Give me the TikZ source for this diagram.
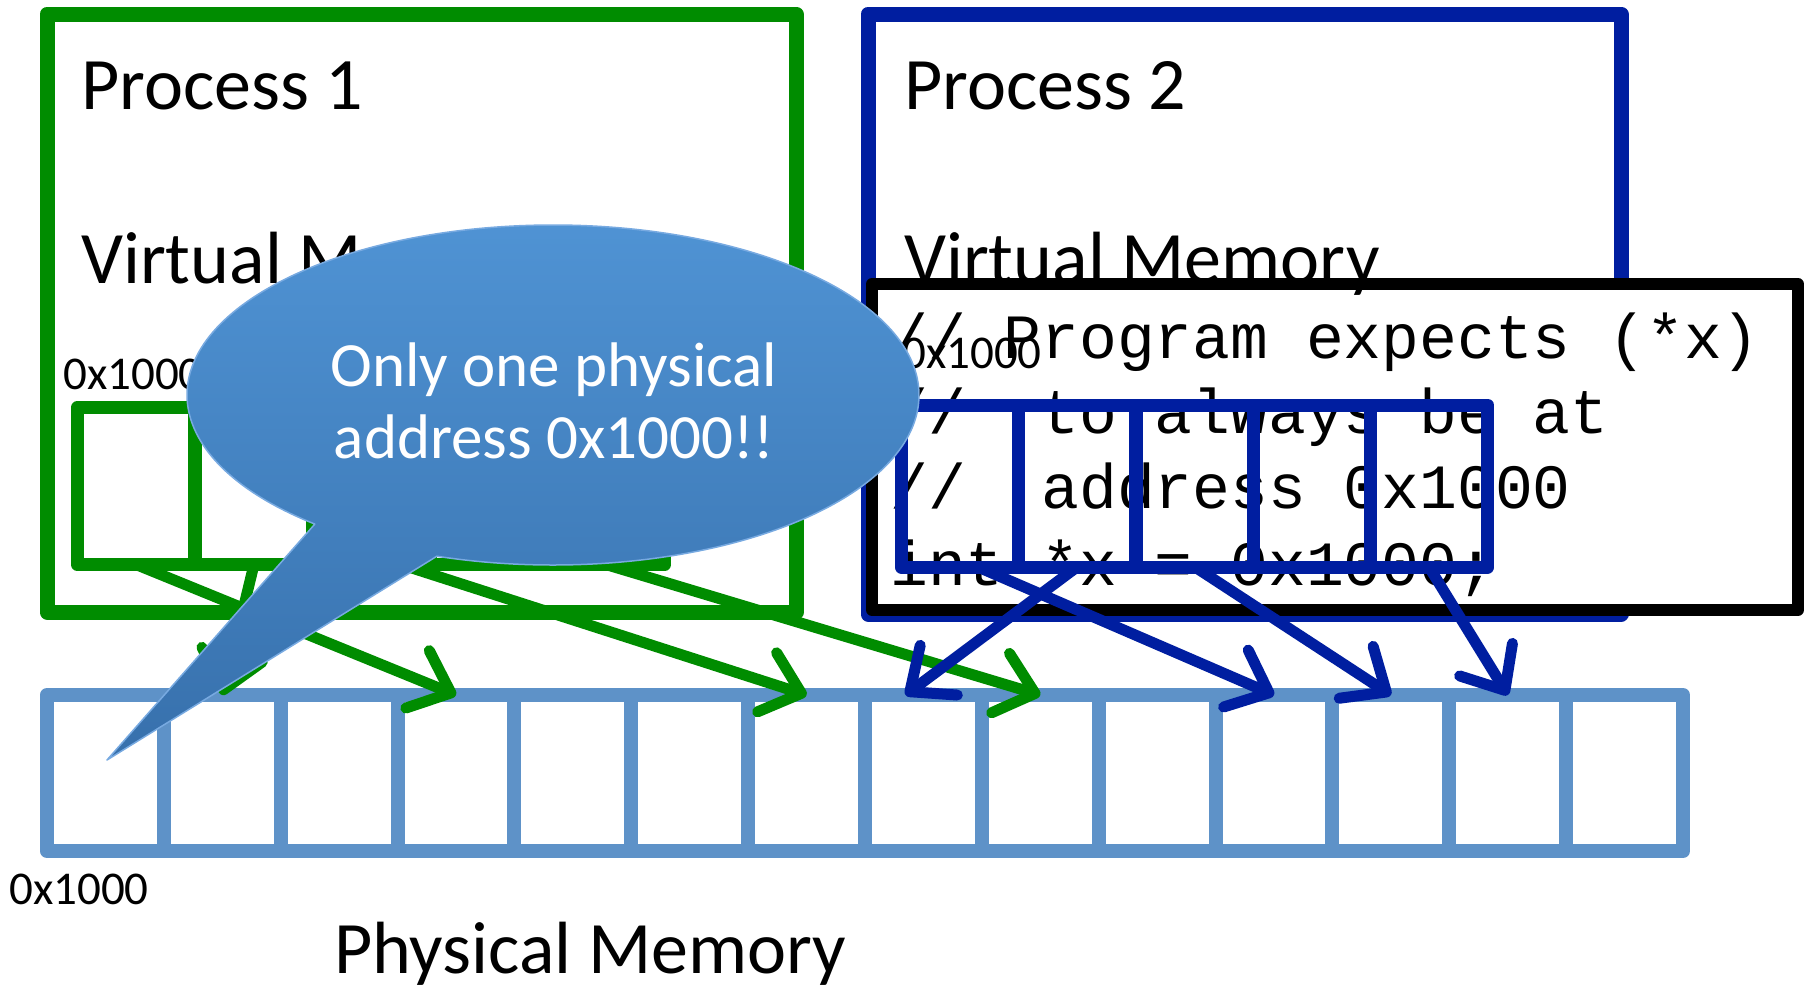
\documentclass[tikz,border=0pt]{standalone}
\usepackage{fontspec}
\setmainfont{Carlito}
\newfontfamily\codefont{Liberation Mono}
\usepackage{tikz}
\usetikzlibrary{arrows.meta,calc}

\definecolor{pgreen}{RGB}{0,140,0}
\definecolor{pblue}{RGB}{0,30,160}
\definecolor{memblue}{RGB}{94,146,200}
\definecolor{bubtop}{RGB}{80,148,213}
\definecolor{bubbot}{RGB}{55,112,172}
\definecolor{bubedge}{RGB}{120,170,225}

\begin{document}
\begin{tikzpicture}[x=1pt, y=-1pt, line join=round,
	bigtext/.style={font=\fontsize{74}{80}\selectfont, anchor=base west, inner sep=0pt},
	addrtext/.style={font=\fontsize{47}{52}\selectfont, anchor=base west, inner sep=0pt},
	codetext/.style={font=\codefont\fontsize{63}{70}\selectfont, anchor=base west, inner sep=0pt},
	bubtext/.style={font=\fontsize{63}{70}\selectfont, text=white, anchor=base, inner sep=0pt},
	procbox/.style={line width=15pt, outer sep=0pt, inner sep=0pt},
	gcell/.style={draw=pgreen, line width=13pt, minimum width=117.6pt, minimum height=157pt, outer sep=0pt, inner sep=0pt},
	bcell/.style={draw=pblue, line width=13pt, minimum width=117.4pt, minimum height=162pt, outer sep=0pt, inner sep=0pt},
	pcell/.style={draw=memblue, line width=14pt, minimum width=116.9pt, minimum height=156pt, outer sep=0pt, inner sep=0pt},
	garrow/.style={draw=pgreen, line width=11pt, line cap=round, -{Straight Barb[length=36pt, width=62pt, round]}},
	barrow/.style={draw=pblue, line width=11pt, line cap=round, -{Straight Barb[length=36pt, width=62pt, round]}},
	bubble/.style={top color=bubtop, bottom color=bubbot, draw=bubedge, line width=1.5pt}]

	\useasboundingbox (0,0) rectangle (1806,986);

	% process 1
	\node[procbox, draw=pgreen, minimum width=749pt, minimum height=598pt] (proc1) at (421.5, 313) {};
	\node[bigtext] (p1title) at (81, 109) {Process 1};
	\node[bigtext] (p1virt) at (81, 283) {Virtual Memory};

	% process 2
	\node[procbox, draw=pblue, minimum width=753pt, minimum height=600pt] (proc2) at (1244.5, 314) {};
	\node[bigtext] (p2title) at (904, 109) {Process 2};

	% the program
	\node[draw=black, fill=white, line width=12pt, minimum width=926pt, minimum height=326pt, outer sep=0pt] (code) at (1335, 447) {};
	\node[codetext] (code1) at (890, 358) {// Program expects (*x)};
	\node[codetext] (code2) at (890, 433) {//\ \ to always be at};
	\node[codetext] (code3) at (890, 508) {//\ \ address 0x1000};
	\node[codetext] (code4) at (890, 585) {int *x = 0x1000;};
	\node[bigtext] (p2virt) at (904, 283) {Virtual Memory};
	\node[addrtext] (p2addr) at (902, 368) {0x1000};

	% virtual pages
	\node[addrtext] (p1addr) at (63, 389) {0x1000};
	\node[gcell] (g1) at (136, 486) {};
	\node[gcell] (g2) at (254, 486) {};
	\node[gcell] (g3) at (371, 486) {};
	\node[gcell] (g4) at (489, 486) {};
	\node[gcell] (g5) at (606, 486) {};

	\node[bcell] (b1) at (960, 486) {};
	\node[bcell] (b2) at (1077, 486) {};
	\node[bcell] (b3) at (1195, 486) {};
	\node[bcell] (b4) at (1312, 486) {};
	\node[bcell] (b5) at (1429, 486) {};

	% physical memory
	\node[pcell] (p1) at (105.4, 773) {};
	\node[pcell] (p2) at (222.3, 773) {};
	\node[pcell] (p3) at (339.2, 773) {};
	\node[pcell] (p4) at (456.0, 773) {};
	\node[pcell] (p5) at (572.9, 773) {};
	\node[pcell] (p6) at (689.7, 773) {};
	\node[pcell] (p7) at (806.6, 773) {};
	\node[pcell] (p8) at (923.5, 773) {};
	\node[pcell] (p9) at (1040.3, 773) {};
	\node[pcell] (p10) at (1157.2, 773) {};
	\node[pcell] (p11) at (1274.0, 773) {};
	\node[pcell] (p12) at (1390.9, 773) {};
	\node[pcell] (p13) at (1507.8, 773) {};
	\node[pcell] (p14) at (1624.6, 773) {};
	\node[addrtext] (physaddr) at (9, 904) {0x1000};
	\node[bigtext] (physname) at (334, 973) {Physical Memory};

	% mappings
	\path (g1.south) edge[garrow] (p4.north);
	\path (g2.south) edge[garrow] (p2.north);
	\path ([xshift=30pt]g3.south) edge[garrow] (p7.north);
	\path (g5.south) edge[garrow] (p9.north);

	\path (b2.south) edge[barrow] ([xshift=-18pt]p8.north);
	\path ([xshift=18pt]b1.south) edge[barrow] (p11.north);
	\path (b3.south) edge[barrow] (p12.north);
	\path (b5.south) edge[barrow] (p13.north);

	% callout
	\coordinate (bub) at (553, 395);
	\coordinate (tip) at (107, 760);
	\path[bubble] ($(bub)+(130.6:366 and 170)$) arc[start angle=130.6, end angle=468.5, x radius=366, y radius=170] -- (tip) -- cycle;
	\node[bubtext] (say1) at (554, 386) {Only one physical};
	\node[bubtext] (say2) at (554, 458) {address 0x1000!!};

\end{tikzpicture}
\end{document}
